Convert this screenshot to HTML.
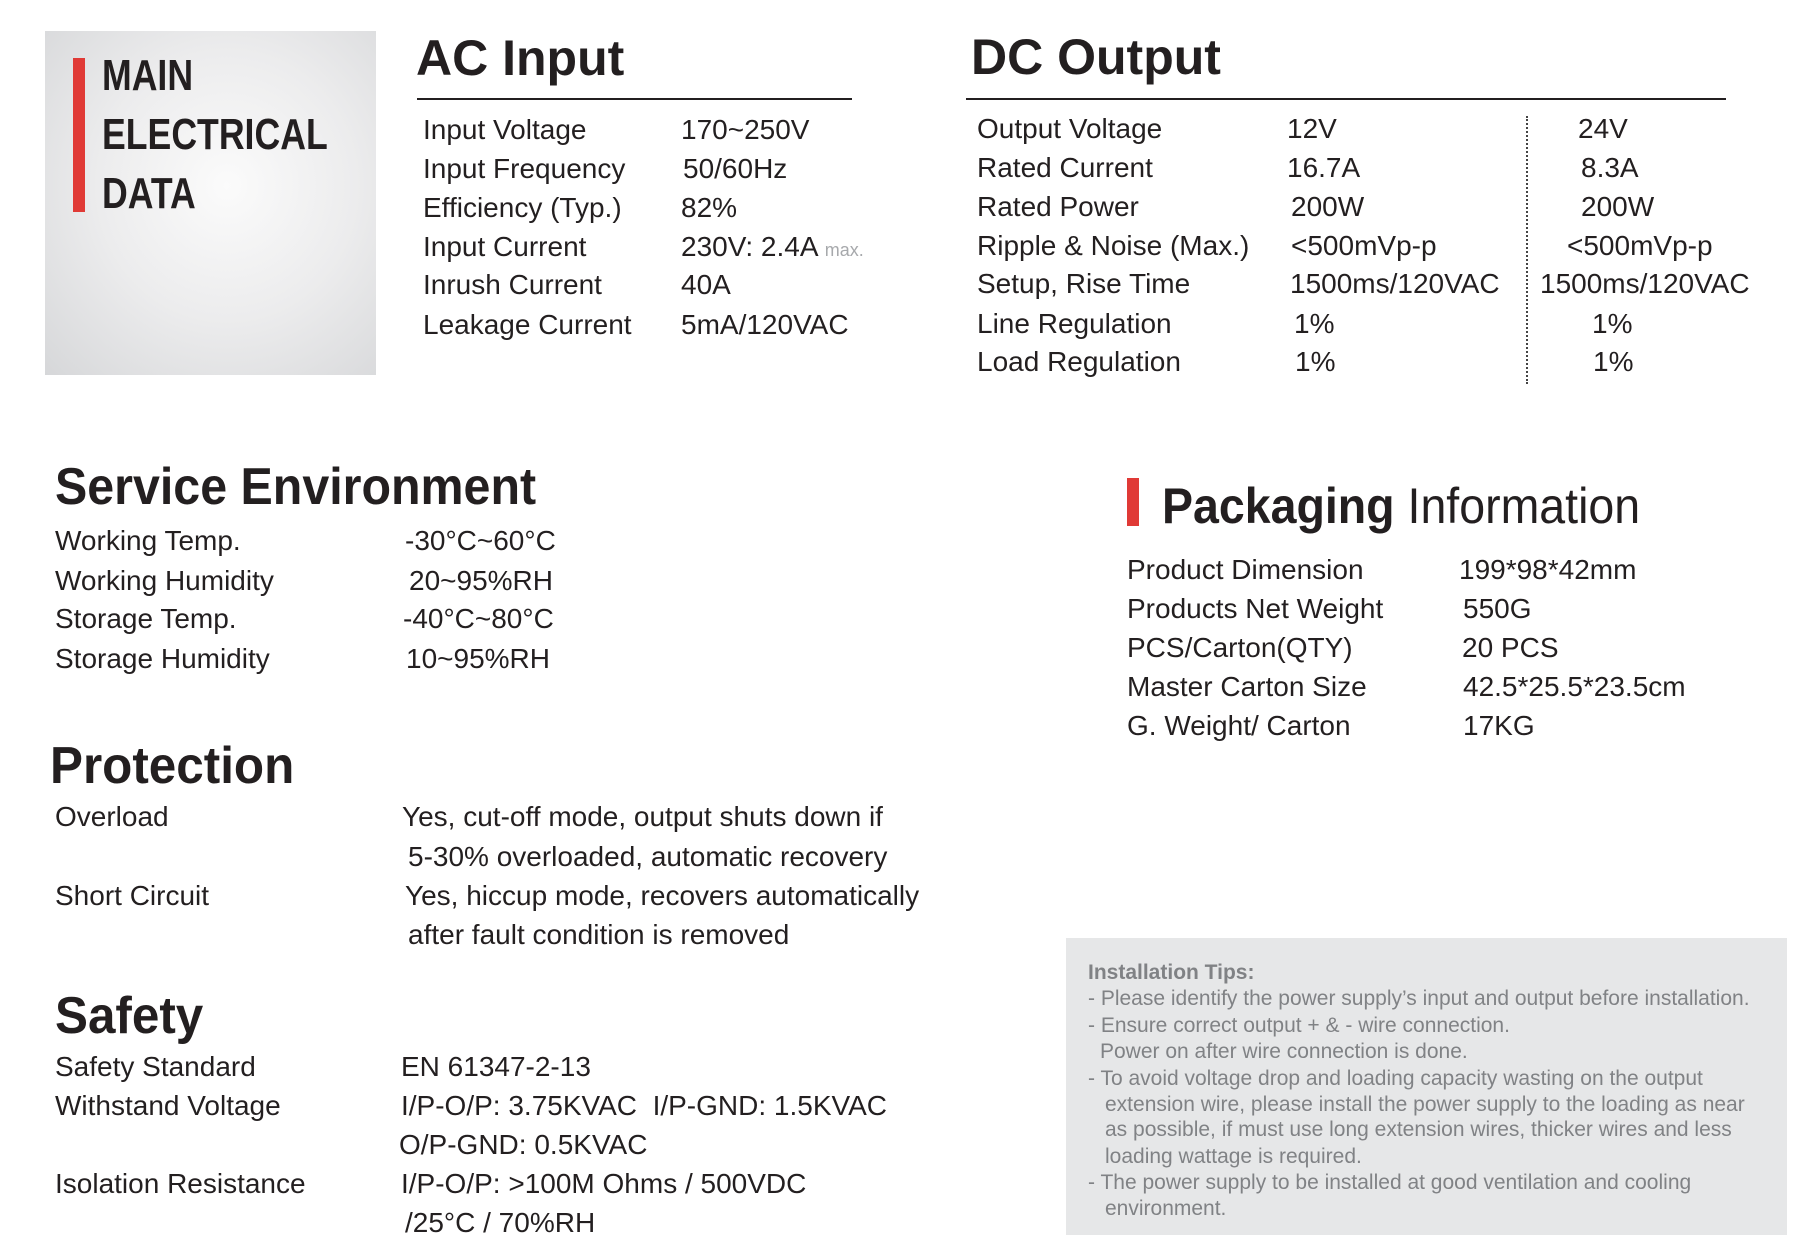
<!DOCTYPE html>
<html><head><meta charset="utf-8"><style>
*{margin:0;padding:0}
body{width:1816px;height:1258px;background:#fff;position:relative;overflow:hidden;font-family:"Liberation Sans",sans-serif;color:#231f20}
.t{position:absolute;white-space:nowrap;line-height:1;font-size:28px;transform-origin:left center}
.h{font-weight:bold;font-size:50px}
.tip{position:absolute;white-space:nowrap;line-height:1;font-size:21px;color:#808285;letter-spacing:0;left:1088px}
</style></head><body>
<div style="position:absolute;left:45px;top:31px;width:331px;height:344px;background:radial-gradient(ellipse at 55% 45%,#fbfbfb 0%,#ececed 50%,#d6d7d9 100%)"></div>
<div style="position:absolute;left:73px;top:58px;width:12px;height:154px;background:#e03a36"></div>
<div class="t" style="left:102px;top:54px;font-size:44px;font-weight:bold;transform:scaleX(.81)">MAIN</div>
<div class="t" style="left:102px;top:113px;font-size:44px;font-weight:bold;transform:scaleX(.81)">ELECTRICAL</div>
<div class="t" style="left:102px;top:172px;font-size:44px;font-weight:bold;transform:scaleX(.81)">DATA</div>

<div class="t h" style="left:416px;top:33px">AC Input</div>
<div style="position:absolute;left:417px;top:98px;width:435px;height:2px;background:#231f20"></div>
<div class="t" style="left:423px;top:116px">Input Voltage</div><div class="t" style="left:681px;top:116px">170~250V</div>
<div class="t" style="left:423px;top:155px">Input Frequency</div><div class="t" style="left:683px;top:155px">50/60Hz</div>
<div class="t" style="left:423px;top:194px">Efficiency (Typ.)</div><div class="t" style="left:681px;top:194px">82%</div>
<div class="t" style="left:423px;top:233px">Input Current</div><div class="t" style="left:681px;top:233px">230V: 2.4A <span style="font-size:18px;color:#a7a9ac">max.</span></div>
<div class="t" style="left:423px;top:271px">Inrush Current</div><div class="t" style="left:681px;top:271px">40A</div>
<div class="t" style="left:423px;top:311px">Leakage Current</div><div class="t" style="left:681px;top:311px">5mA/120VAC</div>

<div class="t h" style="left:971px;top:32px">DC Output</div>
<div style="position:absolute;left:966px;top:98px;width:760px;height:2px;background:#231f20"></div>
<div style="position:absolute;left:1526px;top:116px;height:268px;border-left:2px dotted #444"></div>
<div class="t" style="left:977px;top:115px">Output Voltage</div><div class="t" style="left:1287px;top:115px">12V</div><div class="t" style="left:1578px;top:115px">24V</div>
<div class="t" style="left:977px;top:154px">Rated Current</div><div class="t" style="left:1287px;top:154px">16.7A</div><div class="t" style="left:1581px;top:154px">8.3A</div>
<div class="t" style="left:977px;top:193px">Rated Power</div><div class="t" style="left:1291px;top:193px">200W</div><div class="t" style="left:1581px;top:193px">200W</div>
<div class="t" style="left:977px;top:232px">Ripple &amp; Noise (Max.)</div><div class="t" style="left:1291px;top:232px">&lt;500mVp-p</div><div class="t" style="left:1567px;top:232px">&lt;500mVp-p</div>
<div class="t" style="left:977px;top:270px">Setup, Rise Time</div><div class="t" style="left:1290px;top:270px">1500ms/120VAC</div><div class="t" style="left:1540px;top:270px">1500ms/120VAC</div>
<div class="t" style="left:977px;top:310px">Line Regulation</div><div class="t" style="left:1294px;top:310px">1%</div><div class="t" style="left:1592px;top:310px">1%</div>
<div class="t" style="left:977px;top:348px">Load Regulation</div><div class="t" style="left:1295px;top:348px">1%</div><div class="t" style="left:1593px;top:348px">1%</div>

<div class="t h" style="left:55px;top:461px;font-size:52px;transform:scaleX(.93)">Service Environment</div>
<div class="t" style="left:55px;top:527px">Working Temp.</div><div class="t" style="left:405px;top:527px">-30°C~60°C</div>
<div class="t" style="left:55px;top:567px">Working Humidity</div><div class="t" style="left:409px;top:567px">20~95%RH</div>
<div class="t" style="left:55px;top:605px">Storage Temp.</div><div class="t" style="left:403px;top:605px">-40°C~80°C</div>
<div class="t" style="left:55px;top:645px">Storage Humidity</div><div class="t" style="left:406px;top:645px">10~95%RH</div>

<div style="position:absolute;left:1127px;top:478px;width:12px;height:48px;background:#e03a36"></div>
<div class="t" style="left:1162px;top:481px;font-size:50px;transform:scaleX(.93)"><b>Packaging</b> Information</div>
<div class="t" style="left:1127px;top:556px">Product Dimension</div><div class="t" style="left:1459px;top:556px">199*98*42mm</div>
<div class="t" style="left:1127px;top:595px">Products Net Weight</div><div class="t" style="left:1463px;top:595px">550G</div>
<div class="t" style="left:1127px;top:634px">PCS/Carton(QTY)</div><div class="t" style="left:1462px;top:634px">20 PCS</div>
<div class="t" style="left:1127px;top:673px">Master Carton Size</div><div class="t" style="left:1463px;top:673px">42.5*25.5*23.5cm</div>
<div class="t" style="left:1127px;top:712px">G. Weight/ Carton</div><div class="t" style="left:1463px;top:712px">17KG</div>

<div class="t h" style="left:50px;top:740px;font-size:52px;transform:scaleX(.95)">Protection</div>
<div class="t" style="left:55px;top:803px">Overload</div><div class="t" style="left:402px;top:803px">Yes, cut-off mode, output shuts down if</div>
<div class="t" style="left:408px;top:843px">5-30% overloaded, automatic recovery</div>
<div class="t" style="left:55px;top:882px">Short Circuit</div><div class="t" style="left:405px;top:882px">Yes, hiccup mode, recovers automatically</div>
<div class="t" style="left:408px;top:921px">after fault condition is removed</div>

<div class="t h" style="left:55px;top:990px;font-size:52px;transform:scaleX(.95)">Safety</div>
<div class="t" style="left:55px;top:1053px">Safety Standard</div><div class="t" style="left:401px;top:1053px">EN 61347-2-13</div>
<div class="t" style="left:55px;top:1092px">Withstand Voltage</div><div class="t" style="left:401px;top:1092px">I/P-O/P: 3.75KVAC&nbsp; I/P-GND: 1.5KVAC</div>
<div class="t" style="left:399px;top:1131px">O/P-GND: 0.5KVAC</div>
<div class="t" style="left:55px;top:1170px">Isolation Resistance</div><div class="t" style="left:401px;top:1170px">I/P-O/P: &gt;100M Ohms / 500VDC</div>
<div class="t" style="left:405px;top:1209px">/25°C / 70%RH</div>

<div style="position:absolute;left:1066px;top:938px;width:721px;height:297px;background:#e6e7e8"></div>
<div class="tip" style="top:962px;font-weight:bold">Installation Tips:</div>
<div class="tip" style="top:988px">- Please identify the power supply’s input and output before installation.</div>
<div class="tip" style="top:1015px">- Ensure correct output + &amp; - wire connection.</div>
<div class="tip" style="top:1041px;left:1100px">Power on after wire connection is done.</div>
<div class="tip" style="top:1068px">- To avoid voltage drop and loading capacity wasting on the output</div>
<div class="tip" style="top:1094px;left:1105px">extension wire, please install the power supply to the loading as near</div>
<div class="tip" style="top:1119px;left:1105px">as possible, if must use long extension wires, thicker wires and less</div>
<div class="tip" style="top:1146px;left:1105px">loading wattage is required.</div>
<div class="tip" style="top:1172px">- The power supply to be installed at good ventilation and cooling</div>
<div class="tip" style="top:1198px;left:1105px">environment.</div>
</body></html>
